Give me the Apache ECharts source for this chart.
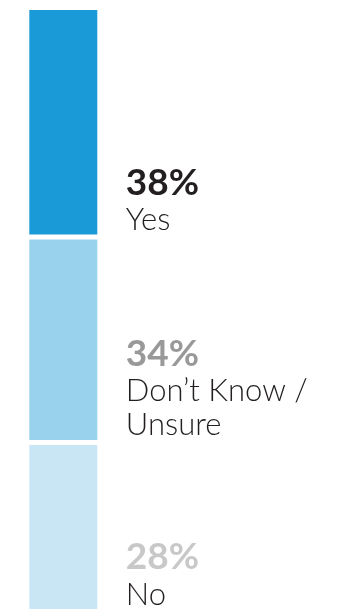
<!DOCTYPE html>
<html><head><meta charset="utf-8">
<script src="https://cdn.jsdelivr.net/npm/echarts@6/dist/echarts.min.js"></script>
<style>html,body{margin:0;padding:0;background:#fff}#c{width:351px;height:613px}</style>
</head><body><div id="c"></div>
<script>
// data (stacked bottom to top)
const categories = ['Q'];
const seriesNames = ['No', 'Don’t Know / Unsure', 'Yes'];
const labelLines = ['No', 'Don’t Know /\nUnsure', 'Yes'];
const seriesValues = [28, 34, 38];
const barColors = ['#c8e6f4', '#99d2ec', '#1a9ad6'];
const pctColors = ['#c8c8c8', '#999999', '#231f20'];

const chart = echarts.init(document.getElementById('c'), null, {renderer: 'canvas'});
const series = seriesNames.map((name, i) => ({
  name: name,
  type: 'bar',
  stack: 'all',
  barWidth: 73,
  data: [seriesValues[i]],
  itemStyle: {color: barColors[i], borderColor: '#ffffff', borderWidth: 2.5},
  label: {
    show: true,
    position: [99, '100%'],
    align: 'left',
    verticalAlign: 'bottom',
    formatter: p => '{p|' + p.value + '%}\n' + labelLines[i].split('\n').map(s => '{l|' + s + '}').join('\n'),
    rich: {
      p: {fontFamily: 'Lato', fontWeight: 'bold', fontSize: 37, lineHeight: 40, color: pctColors[i], letterSpacing: 3},
      l: {fontFamily: 'Lato', fontWeight: 300, fontSize: 31, lineHeight: 34, color: '#231f20', letterSpacing: 1}
    }
  }
}));
chart.setOption({
  animation: false,
  grid: {left: 0, width: 126.6, top: 7.5, height: 604},
  xAxis: {type: 'category', data: categories, show: false},
  yAxis: {type: 'value', min: 0, max: 100, show: false},
  series: series
});
</script></body></html>
